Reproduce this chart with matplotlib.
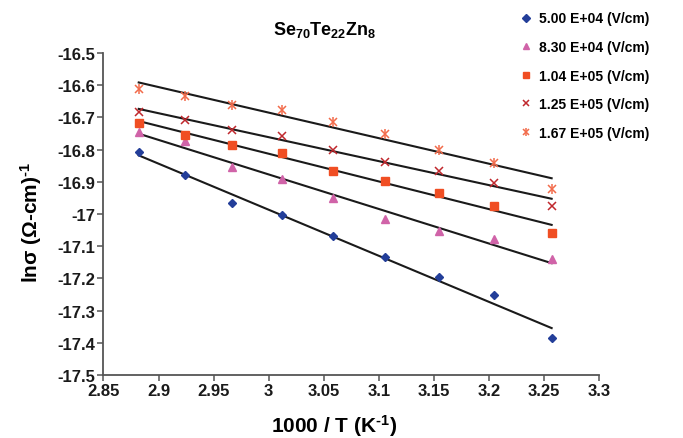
import numpy as np
import matplotlib
matplotlib.use("Agg")
import matplotlib.pyplot as plt
from matplotlib.legend_handler import HandlerTuple

plt.rcParams['font.family'] = ['Liberation Sans', 'DejaVu Sans']
plt.rcParams['mathtext.fontset'] = 'custom'
plt.rcParams['mathtext.rm'] = 'Liberation Sans:bold'
plt.rcParams['mathtext.bf'] = 'Liberation Sans:bold'
plt.rcParams['mathtext.it'] = 'Liberation Sans:bold'

x_vals = [2.882, 2.924, 2.967, 3.012, 3.058, 3.106, 3.155, 3.205, 3.257]

s_500e4 = [-16.807, -16.879, -16.966, -17.003, -17.068, -17.134, -17.196, -17.252, -17.385]
s_830e4 = [-16.744, -16.773, -16.854, -16.891, -16.950, -17.017, -17.054, -17.078, -17.140]
s_104e5 = [-16.717, -16.755, -16.786, -16.811, -16.866, -16.898, -16.935, -16.975, -17.059]
s_125e5 = [-16.684, -16.708, -16.739, -16.758, -16.801, -16.839, -16.866, -16.904, -16.975]
s_167e5 = [-16.612, -16.634, -16.661, -16.677, -16.714, -16.752, -16.801, -16.842, -16.922]

labels = ["5.00 E+04 (V/cm)", "8.30 E+04 (V/cm)", "1.04 E+05 (V/cm)",
          "1.25 E+05 (V/cm)", "1.67 E+05 (V/cm)"]

x_ticks = [2.85, 2.9, 2.95, 3.0, 3.05, 3.1, 3.15, 3.2, 3.25, 3.3]
x_ticklabels = ["2.85", "2.9", "2.95", "3", "3.05", "3.1", "3.15", "3.2", "3.25", "3.3"]
y_ticks = [-17.5, -17.4, -17.3, -17.2, -17.1, -17.0, -16.9, -16.8, -16.7, -16.6, -16.5]
y_ticklabels = ["-17.5", "-17.4", "-17.3", "-17.2", "-17.1", "-17", "-16.9", "-16.8", "-16.7", "-16.6", "-16.5"]

fig = plt.figure(figsize=(6.83, 4.39), dpi=100)
ax = fig.add_axes([0.1515, 0.1435, 0.877 - 0.1515, 0.877 - 0.1435])

x = np.array(x_vals)

# trend lines
for s in [s_500e4, s_830e4, s_104e5, s_125e5, s_167e5]:
    m, b = np.polyfit(x, np.array(s), 1)
    ax.plot([x[0], x[-1]], [m * x[0] + b, m * x[-1] + b], color='#1a1a1a', lw=1.5, zorder=2)

h1, = ax.plot(x, s_500e4, 'D', color='#233E99', ms=4.5, ls='none', zorder=3)
h2, = ax.plot(x, s_830e4, '^', color='#D063A8', ms=6, ls='none', zorder=3)
h3, = ax.plot(x, s_104e5, 's', color='#F04E23', ms=5.5, ls='none', zorder=3)
h4, = ax.plot(x, s_125e5, 'x', color='#C0282D', ms=6, mew=1.1, ls='none', zorder=3)
h5a, = ax.plot(x, s_167e5, 'x', color='#F26B4B', ms=6, mew=1.1, ls='none', zorder=3)
h5b, = ax.plot(x, s_167e5, '|', color='#F26B4B', ms=7, mew=1.1, ls='none', zorder=3)

ax.set_xlim(2.85, 3.3)
ax.set_ylim(-17.5, -16.5)
ax.set_xticks(x_ticks)
ax.set_xticklabels(x_ticklabels)
ax.set_yticks(y_ticks)
ax.set_yticklabels(y_ticklabels)

for sp in ['top', 'right']:
    ax.spines[sp].set_visible(False)
for sp in ['left', 'bottom']:
    ax.spines[sp].set_color('#555555')
    ax.spines[sp].set_linewidth(1.3)
ax.tick_params(axis='both', direction='out', length=4, width=1.1, color='#555555',
               labelsize=12, pad=2)
for lab in ax.get_xticklabels() + ax.get_yticklabels():
    lab.set_fontweight('bold')
    lab.set_color('#1a1a1a')

ax.set_xlabel("1000 / T (K$^{\\text{-1}}$)", fontsize=15, fontweight='bold')
ax.set_ylabel("ln\u03c3 (\u03a9-cm)$^{\\text{-1}}$", fontsize=15, fontweight='bold')
ax.xaxis.set_label_coords(0.465, -0.115)
ax.yaxis.set_label_coords(-0.121, 0.478)

fig.text(0.475, 1 - 30 / 439, "Se$_{70}$Te$_{22}$Zn$_{8}$",
         ha='center', va='center', fontsize=13, fontweight='bold')

leg = fig.legend([h1, h2, h3, h4, (h5a, h5b)], labels,
                 handler_map={tuple: HandlerTuple(ndivide=1, pad=0)},
                 loc='upper left', bbox_to_anchor=(0.743, 1.0), frameon=False,
                 prop={'weight': 'bold', 'size': 10}, handlelength=0.8,
                 handletextpad=0.6, labelspacing=1.05, markerscale=0.8)

fig.savefig("out.png", dpi=100)
